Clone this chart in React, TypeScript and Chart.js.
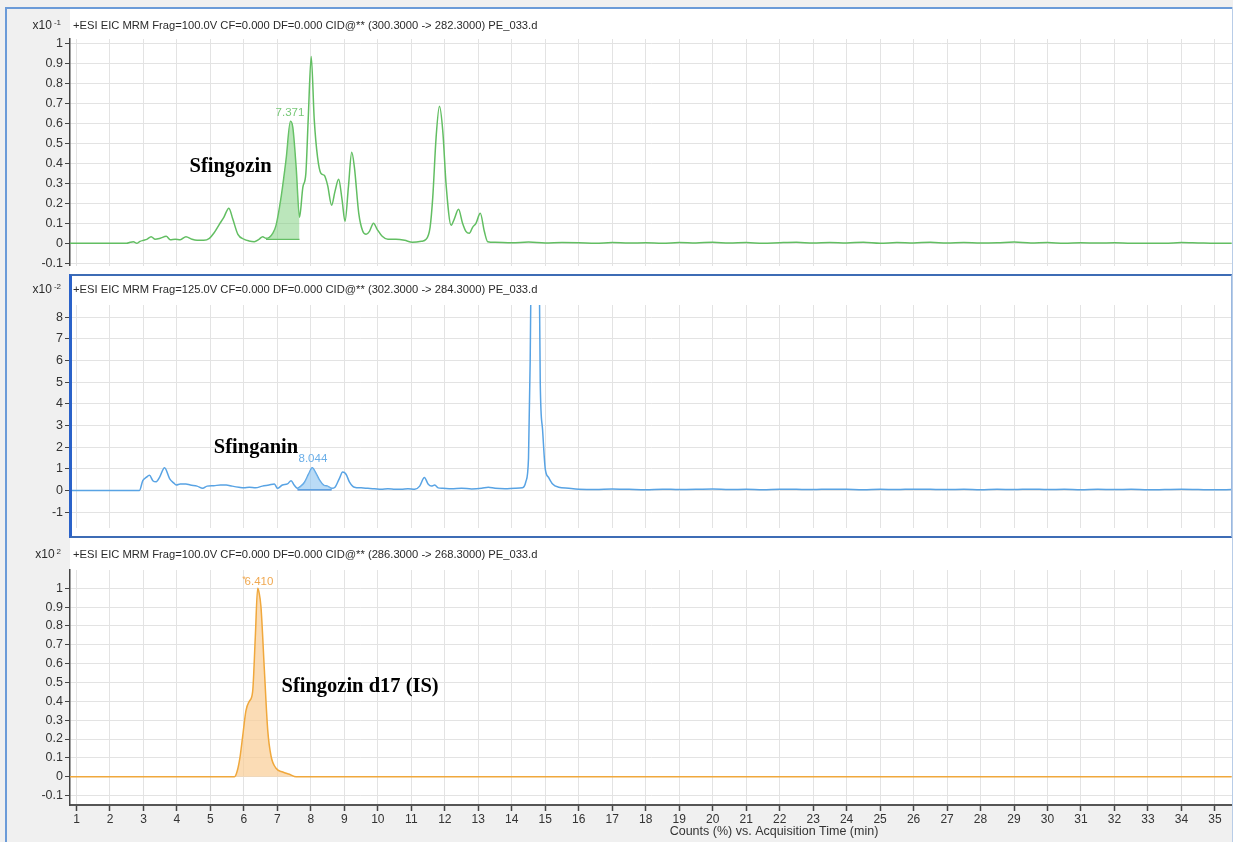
import React, { useEffect, useRef } from "react";
import { Chart, registerables } from "chart.js";
Chart.register(...registerables);

// ---------------- DATA ----------------
const xTicks = [1, 2, 3, 4, 5, 6, 7, 8, 9, 10, 11, 12, 13, 14, 15, 16, 17, 18, 19, 20, 21, 22, 23, 24, 25, 26, 27, 28, 29, 30, 31, 32, 33, 34, 35];
const yTicksFrac = [-0.1, 0, 0.1, 0.2, 0.3, 0.4, 0.5, 0.6, 0.7, 0.8, 0.9, 1];
const yTicksInt = [-1, 0, 1, 2, 3, 4, 5, 6, 7, 8];

// Panel 1 (green) – Sfingozin, x10^-1
const greenTime = [0.8, 2.5, 2.6, 2.7, 2.8, 2.9, 3.0, 3.1, 3.23, 3.35, 3.5, 3.68, 3.8, 3.95, 4.1, 4.27, 4.45, 4.6, 4.8, 4.97, 5.1, 5.27, 5.4, 5.55, 5.67, 5.82, 6.01, 6.15, 6.31, 6.45, 6.56, 6.66, 6.76, 6.86, 6.96, 7.11, 7.26, 7.39, 7.46, 7.56, 7.66, 7.76, 7.85, 7.92, 8.01, 8.1, 8.2, 8.3, 8.4, 8.5, 8.62, 8.72, 8.83, 8.93, 9.02, 9.12, 9.22, 9.3, 9.43, 9.55, 9.65, 9.75, 9.87, 9.98, 10.13, 10.3, 10.54, 10.8, 11.03, 11.3, 11.44, 11.56, 11.64, 11.74, 11.84, 11.94, 12.04, 12.19, 12.28, 12.41, 12.53, 12.63, 12.73, 12.83, 12.93, 13.06, 13.18, 13.28, 13.5, 14, 14.5, 15, 15.5];
const greenValue = [0, 0, 0.005, 0.008, 0, 0.01, 0.015, 0.02, 0.033, 0.02, 0.025, 0.035, 0.018, 0.02, 0.018, 0.033, 0.02, 0.015, 0.015, 0.025, 0.05, 0.096, 0.13, 0.176, 0.12, 0.045, 0.02, 0.012, 0.008, 0.02, 0.033, 0.025, 0.03, 0.05, 0.09, 0.23, 0.42, 0.61, 0.58, 0.38, 0.13, 0.28, 0.35, 0.62, 0.935, 0.62, 0.43, 0.35, 0.34, 0.29, 0.19, 0.26, 0.32, 0.22, 0.11, 0.28, 0.455, 0.38, 0.15, 0.06, 0.045, 0.06, 0.1, 0.07, 0.035, 0.02, 0.02, 0.015, 0.005, 0.01, 0.02, 0.08, 0.23, 0.53, 0.685, 0.56, 0.29, 0.09, 0.12, 0.17, 0.1, 0.06, 0.05, 0.08, 0.1, 0.15, 0.06, 0.008, 0.005, 0.003, 0.006, 0.002, 0.004];
const tailTime = [16, 16.5, 17, 17.5, 18, 18.5, 19, 19.5, 20, 20.5, 21, 21.5, 22, 22.5, 23, 23.5, 24, 24.5, 25, 25.5, 26, 26.5, 27, 27.5, 28, 28.5, 29, 29.5, 30, 30.5, 31, 31.5, 32, 32.5, 33, 33.5, 34, 34.5, 35, 35.5];
const greenTail = [0.003, 0.0, 0.004, 0.001, 0.003, 0.0, 0.004, 0.002, 0.005, 0.001, 0.004, 0.0, 0.003, 0.005, 0.001, 0.004, 0.002, 0.005, 0.0, 0.004, 0.002, 0.005, 0.001, 0.004, 0.002, 0.003, 0.006, 0.002, 0.004, 0.0, 0.003, 0.001, 0.003, 0.0, 0.0, 0.0, 0.004, 0.002, 0.0, 0.0];
const greenShade = [6.66, 7.66];
const greenShadeBase = 0.02;

// Panel 2 (blue) – Sfinganin, x10^-2
const blueTime = [0.8, 2.88, 2.98, 3.08, 3.18, 3.28, 3.38, 3.48, 3.63, 3.78, 3.9, 3.98, 4.1, 4.27, 4.4, 4.6, 4.77, 4.9, 5.1, 5.3, 5.47, 5.65, 5.85, 6.0, 6.16, 6.35, 6.55, 6.75, 6.91, 7.0, 7.15, 7.3, 7.41, 7.5, 7.6, 7.7, 7.81, 7.93, 8.04, 8.15, 8.25, 8.38, 8.5, 8.62, 8.72, 8.85, 8.95, 9.05, 9.15, 9.3, 9.5, 9.7, 9.9, 10.1, 10.3, 10.5, 10.7, 10.9, 11.1, 11.25, 11.39, 11.5, 11.6, 11.7, 11.8, 11.94, 12.2, 12.5, 12.8, 13.1, 13.3, 13.5, 13.8, 14.1, 14.32, 14.42, 14.5, 14.55, 14.6, 14.7, 14.8, 14.85, 14.92, 15.0, 15.1, 15.22, 15.4, 15.7];
const blueValue = [0, 0, 0.45, 0.6, 0.7, 0.45, 0.4, 0.6, 1.05, 0.55, 0.35, 0.25, 0.3, 0.3, 0.25, 0.2, 0.1, 0.2, 0.22, 0.25, 0.25, 0.2, 0.15, 0.12, 0.15, 0.12, 0.2, 0.25, 0.3, 0.1, 0.25, 0.3, 0.45, 0.25, 0.1, 0.2, 0.38, 0.75, 1.05, 0.8, 0.5, 0.25, 0.2, 0.1, 0.15, 0.55, 0.85, 0.75, 0.4, 0.15, 0.12, 0.1, 0.08, 0.05, 0.08, 0.06, 0.05, 0.08, 0.05, 0.2, 0.6, 0.3, 0.2, 0.25, 0.12, 0.1, 0.08, 0.1, 0.07, 0.1, 0.15, 0.1, 0.08, 0.1, 0.12, 0.4, 1.5, 6, 14, 40, 14, 5, 2.8, 1.0, 0.6, 0.3, 0.15, 0.1];
const blueTail = [0.06, 0.04, 0.07, 0.05, 0.03, 0.06, 0.04, 0.05, 0.07, 0.04, 0.05, 0.03, 0.06, 0.05, 0.04, 0.06, 0.05, 0.03, 0.05, 0.04, 0.06, 0.05, 0.04, 0.05, 0.03, 0.05, 0.04, 0.06, 0.04, 0.05, 0.03, 0.05, 0.04, 0.05, 0.03, 0.04, 0.05, 0.04, 0.03, 0.04];
const blueShade = [7.6, 8.62];
const blueShadeBase = 0.03;

// Panel 3 (orange) – Sfingozin d17 (IS), x10^2
const orangeTime = [0.8, 5.72, 5.8, 5.88, 5.96, 6.06, 6.16, 6.26, 6.34, 6.41, 6.45, 6.51, 6.61, 6.71, 6.81, 6.96, 7.16, 7.36, 7.56, 35.5];
const orangeValue = [0, 0, 0.03, 0.1, 0.21, 0.35, 0.4, 0.45, 0.74, 1.0, 0.98, 0.9, 0.57, 0.25, 0.11, 0.045, 0.025, 0.013, 0, 0];

const titles = [
  "+ESI EIC MRM Frag=100.0V CF=0.000 DF=0.000 CID@** (300.3000 -> 282.3000) PE_033.d",
  "+ESI EIC MRM Frag=125.0V CF=0.000 DF=0.000 CID@** (302.3000 -> 284.3000) PE_033.d",
  "+ESI EIC MRM Frag=100.0V CF=0.000 DF=0.000 CID@** (286.3000 -> 268.3000) PE_033.d",
];
const exponents = ["-1", "-2", "2"];
const xAxisTitle = "Counts (%) vs. Acquisition Time (min)";

// ---------------- STYLE ----------------
const SANS = '"Liberation Sans", Arial, sans-serif';
const SERIF = '"Liberation Serif", "Times New Roman", serif';
const GRID = "#e3e3e3";
const AXIS = "#444";
const X_MIN = 0.806;
const X_MAX = 35.51;

type Label = { text: string; x: number; y: number; color: string; font: string };

function pts(t: number[], v: number[]) {
  return t.map((x, i) => ({ x, y: v[i] }));
}
function within(t: number[], v: number[], r: number[]) {
  return pts(t, v).filter((p) => p.x >= r[0] - 1e-9 && p.x <= r[1] + 1e-9);
}

function textPlugin(idx: number, titleY: number, labels: Label[], extra?: (ctx: CanvasRenderingContext2D) => void) {
  return {
    id: "txt" + idx,
    afterDraw(chart: any) {
      const ctx: CanvasRenderingContext2D = chart.ctx;
      ctx.save();
      ctx.textBaseline = "middle";
      ctx.fillStyle = "#2b2b2b";
      ctx.textAlign = "left";
      ctx.font = "11.2px " + SANS;
      ctx.fillText(titles[idx], 73, titleY);
      ctx.font = "8px " + SANS;
      ctx.textAlign = "right";
      ctx.fillText(exponents[idx], 61, titleY - 3);
      const ew = ctx.measureText(exponents[idx]).width;
      ctx.font = "12px " + SANS;
      ctx.fillText("x10", 61 - ew - 2, titleY);
      const xs = chart.scales.x;
      const ys = chart.scales.y;
      for (const l of labels) {
        ctx.font = l.font;
        ctx.fillStyle = l.color;
        ctx.textAlign = "center";
        ctx.fillText(l.text, xs.getPixelForValue(l.x), ys.getPixelForValue(l.y));
      }
      if (extra) extra(ctx);
      ctx.restore();
    },
  };
}

function yScale(min: number, max: number, ticks: number[]) {
  return {
    type: "linear",
    min,
    max,
    afterBuildTicks: (s: any) => {
      s.ticks = ticks.map((v) => ({ value: v }));
    },
    afterFit: (s: any) => {
      s.width = 70;
    },
    ticks: {
      font: { family: SANS, size: 12.5 },
      color: "#333",
      padding: 2,
      callback: (v: any) => String(Math.round(Number(v) * 10) / 10),
    },
    grid: { color: GRID, lineWidth: 1, tickLength: 5, tickColor: AXIS, tickWidth: 1 },
    border: { display: true, color: AXIS, width: 1.5 },
  };
}

function xScale(showLabels: boolean) {
  return {
    type: "linear",
    min: X_MIN,
    max: X_MAX,
    afterBuildTicks: (s: any) => {
      s.ticks = xTicks.map((v) => ({ value: v }));
    },
    afterFit: (s: any) => {
      s.height = showLabels ? 37 : 0;
    },
    ticks: {
      display: showLabels,
      font: { family: SANS, size: 12 },
      color: "#333",
      padding: 1,
      maxRotation: 0,
      autoSkip: false,
    },
    grid: {
      color: GRID,
      lineWidth: 1,
      drawTicks: showLabels,
      tickLength: 6,
      tickColor: AXIS,
      tickWidth: 1.5,
    },
    border: { display: showLabels, color: "#555", width: 2 },
  };
}

function baseOptions(padding: any, y: any, x: any) {
  return {
    animation: false,
    responsive: false,
    devicePixelRatio: 1,
    layout: { padding },
    plugins: { legend: { display: false }, tooltip: { enabled: false } },
    elements: { point: { radius: 0 }, line: { cubicInterpolationMode: "monotone" } },
    scales: { x, y },
  };
}

export default function App() {
  const r1 = useRef<HTMLCanvasElement>(null);
  const r2 = useRef<HTMLCanvasElement>(null);
  const r3 = useRef<HTMLCanvasElement>(null);

  useEffect(() => {
    const charts: Chart[] = [];

    const gAll = pts(greenTime.concat(tailTime), greenValue.concat(greenTail));
    const gShade = within(greenTime, greenValue, greenShade);
    charts.push(
      new Chart(r1.current as HTMLCanvasElement, {
        type: "line",
        data: {
          datasets: [
            {
              data: gShade,
              borderWidth: 0,
              borderColor: "rgba(0,0,0,0)",
              backgroundColor: "rgba(120,205,120,0.5)",
              fill: { value: greenShadeBase },
            },
            {
              data: [
                { x: greenShade[0], y: greenShadeBase },
                { x: greenShade[1], y: greenShadeBase },
              ],
              borderColor: "rgb(98,188,98)",
              borderWidth: 1.2,
              fill: false,
            },
            { data: gAll, borderColor: "rgb(98,190,98)", borderWidth: 1.5, fill: false },
          ],
        } as any,
        options: baseOptions({ top: 30, bottom: 7, left: 0, right: 1 }, yScale(-0.111, 1.022, yTicksFrac), xScale(false)) as any,
        plugins: [
          textPlugin(0, 17, [
            { text: "7.371", x: 7.376, y: 0.651, color: "#78c878", font: "11.5px " + SANS },
            { text: "Sfingozin", x: 5.6, y: 0.384, color: "#000", font: "bold 20.5px " + SERIF },
          ]),
        ],
      })
    );

    const bAll = pts(blueTime.concat(tailTime), blueValue.concat(blueTail));
    const bShade = within(blueTime, blueValue, blueShade);
    charts.push(
      new Chart(r2.current as HTMLCanvasElement, {
        type: "line",
        data: {
          datasets: [
            {
              data: bShade,
              borderWidth: 0,
              borderColor: "rgba(0,0,0,0)",
              backgroundColor: "rgba(140,195,240,0.6)",
              fill: { value: blueShadeBase },
            },
            {
              data: [
                { x: blueShade[0], y: blueShadeBase },
                { x: blueShade[1], y: blueShadeBase },
              ],
              borderColor: "#3b86d8",
              borderWidth: 1.5,
              fill: false,
            },
            { data: bAll, borderColor: "rgb(88,163,228)", borderWidth: 1.5, fill: false },
          ],
        } as any,
        options: baseOptions({ top: 30, bottom: 4, left: 0, right: 1 }, yScale(-1.71, 8.56, yTicksInt), xScale(false)) as any,
        plugins: [
          textPlugin(1, 15, [
            { text: "8.044", x: 8.06, y: 1.44, color: "#6aaee8", font: "11.5px " + SANS },
            { text: "Sfinganin", x: 6.36, y: 1.98, color: "#000", font: "bold 20.5px " + SERIF },
          ]),
        ],
      })
    );

    const oAll = pts(orangeTime, orangeValue);
    charts.push(
      new Chart(r3.current as HTMLCanvasElement, {
        type: "line",
        data: {
          datasets: [
            {
              data: oAll,
              borderColor: "rgb(240,168,60)",
              borderWidth: 1.5,
              backgroundColor: "rgba(250,205,150,0.7)",
              fill: "origin",
            },
          ],
        } as any,
        options: baseOptions({ top: 33, bottom: 0, left: 0, right: 1 }, yScale(-0.15, 1.097, yTicksFrac), xScale(true)) as any,
        plugins: [
          textPlugin(
            2,
            18,
            [
              { text: "*", x: 6.0, y: 1.045, color: "#f0a850", font: "9px " + SANS },
              { text: "6.410", x: 6.45, y: 1.033, color: "#f0a850", font: "11.5px " + SANS },
              { text: "Sfingozin d17 (IS)", x: 9.47, y: 0.476, color: "#000", font: "bold 20.5px " + SERIF },
            ],
            (ctx) => {
              ctx.font = "12.5px " + SANS;
              ctx.fillStyle = "#333";
              ctx.textAlign = "center";
              ctx.fillText(xAxisTitle, 774, 295);
            }
          ),
        ],
      })
    );

    return () => charts.forEach((c) => c.destroy());
  }, []);

  const abs = (s: any) => ({ position: "absolute" as const, ...s });
  return (
    <div style={{ position: "fixed", left: 0, top: 0, width: 1233, height: 842, background: "#f0f0f0", overflow: "hidden" }}>
      <div style={abs({ left: 70, top: 9, width: 1163, height: 266, background: "#fff" })} />
      <div style={abs({ left: 70, top: 275, width: 1163, height: 262, background: "#fff" })} />
      <div style={abs({ left: 70, top: 537, width: 1163, height: 269, background: "#fff" })} />
      <canvas ref={r1} width={1233} height={266} style={abs({ left: 0, top: 9 })} />
      <canvas ref={r2} width={1233} height={262} style={abs({ left: 0, top: 275 })} />
      <canvas ref={r3} width={1233} height={305} style={abs({ left: 0, top: 537 })} />
      <div style={abs({ left: 5, top: 7, width: 1228, height: 2, background: "#6b9bd8" })} />
      <div style={abs({ left: 5, top: 7, width: 2, height: 835, background: "#6b9bd8" })} />
      <div style={abs({ left: 1232, top: 7, width: 1, height: 835, background: "#b8cde8" })} />
      <div
        style={abs({
          left: 69,
          top: 274,
          width: 1163,
          height: 264,
          boxSizing: "border-box",
          borderTop: "2px solid #3d6cb5",
          borderBottom: "2px solid #3d6cb5",
          borderLeft: "3px solid #2a62c9",
          borderRight: "1px solid #9ab8e0",
        })}
      />
    </div>
  );
}
